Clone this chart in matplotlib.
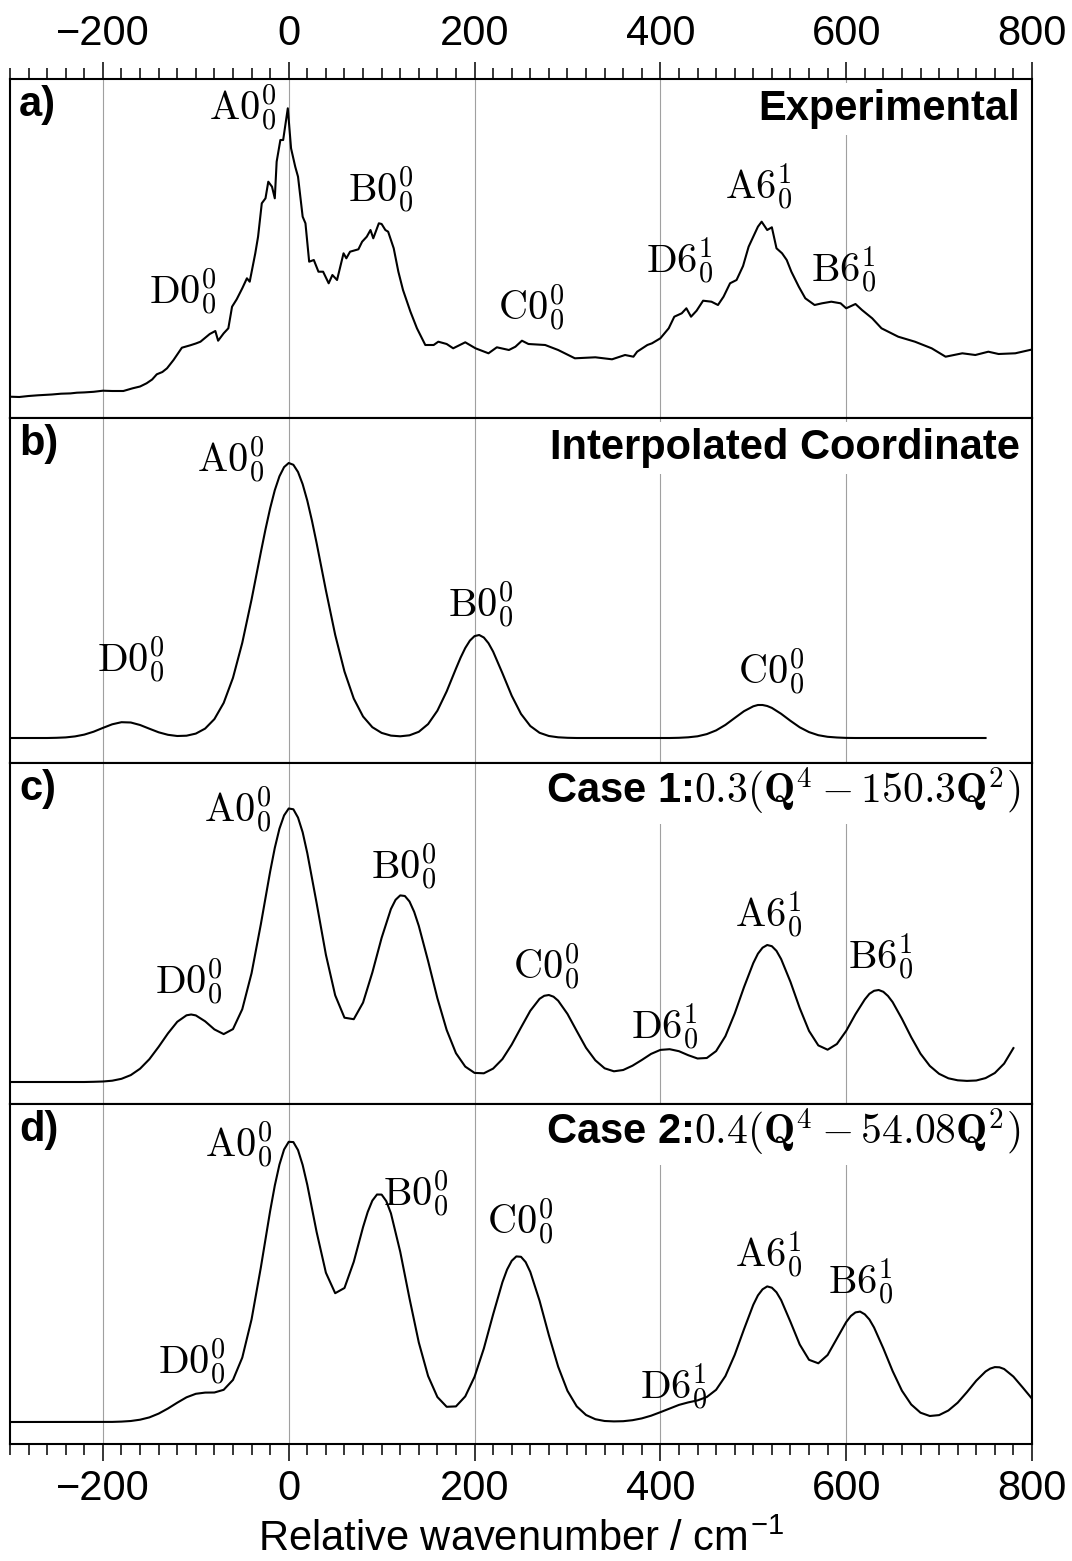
"""
Stacked spectra: experimental trace vs. three simulated vibronic spectra
"""

import numpy as np
import matplotlib.pyplot as plt
from matplotlib.ticker import MultipleLocator

plt.rcParams['font.family'] = ['Liberation Sans', 'DejaVu Sans']
plt.rcParams['mathtext.fontset'] = 'cm'

# ---- data (x in cm-1, intensity in arbitrary units) ----
exp_x = [-300, -290, -280, -270, -264, -255, -245, -235, -228, -220,
         -210, -200, -190, -178, -168, -160, -153, -147, -142, -136,
         -131, -124, -115, -106, -100, -95, -85, -79, -76, -70,
         -65, -61, -56, -50, -45, -42, -36, -33, -29, -25,
         -22, -18, -15, -13, -9, -6, -1, 2.5, 7, 10,
         15, 18, 22, 27, 32, 37, 43, 47, 52, 59,
         62, 66, 75, 79, 84, 88, 91, 97, 100, 104,
         107, 113, 118, 123, 131, 138, 147, 156, 161, 170,
         177, 190, 201, 215, 224, 237, 244, 251, 258, 276,
         290, 308, 330, 348, 362, 371, 375, 386, 391, 400,
         409, 415, 423, 428, 433, 439, 446, 455, 462, 468,
         475, 482, 489, 495, 500, 505, 509, 515, 520, 525,
         531, 536, 541, 549, 556, 566, 574, 584, 594, 600,
         610, 617, 628, 638, 656, 674, 692, 707, 725, 739,
         753, 764, 782, 798, 800]
exp_y = [21.3, 21.0, 22.0, 22.7, 23.0, 23.5, 24.3, 24.6, 25.3, 25.6,
         26.2, 27.3, 27.0, 27.0, 29.7, 31.5, 34.7, 38.5, 43.7, 46.0,
         49.7, 58.0, 70.3, 72.7, 74.5, 76.3, 84.0, 87.0, 77.3, 84.7,
         89.7, 111.3, 118.7, 129.7, 139.7, 136.3, 164.7, 181.3, 214.7, 219.7,
         236.3, 231.3, 219.7, 256.3, 278.0, 278.0, 309.7, 269.7, 251.3, 241.3,
         201.3, 194.7, 156.3, 158.0, 146.3, 146.3, 134.7, 143.0, 138.0, 164.7,
         159.7, 166.3, 168.7, 176.3, 181.3, 188.0, 179.7, 194.7, 194.0, 188.0,
         186.3, 169.7, 146.3, 128.0, 106.3, 89.7, 73.0, 73.0, 76.3, 74.0,
         69.7, 75.7, 69.7, 64.7, 70.7, 68.0, 71.3, 77.3, 74.0, 73.0,
         68.0, 59.7, 60.7, 58.7, 63.0, 61.3, 66.3, 73.0, 74.7, 79.7,
         89.7, 101.3, 104.7, 109.7, 101.3, 107.3, 117.3, 116.3, 113.0, 121.3,
         134.7, 138.0, 152.0, 171.3, 181.3, 191.3, 196.3, 188.0, 190.7, 169.7,
         164.7, 158.0, 146.3, 131.3, 119.7, 113.0, 114.7, 116.3, 114.7, 109.7,
         114.0, 108.0, 99.7, 89.7, 81.3, 76.3, 69.7, 61.3, 64.7, 63.0,
         66.3, 64.0, 64.7, 68.0, 68.5]

# simulated spectra: 10 cm-1 readings plus extra readings near peak tops
interp_x = np.arange(-300, 760, 10)
interp_y = [25, 25, 25, 25, 25, 25.2, 25.6, 26.6, 28.4, 31.3,
            35.1, 38.7, 40.8, 40.5, 38.0, 34.3, 30.7, 28.2, 27.0, 27.3,
            29.4, 34.4, 43.9, 60.1, 85.2, 120.2, 163.5, 210.8, 254.7, 286.7,
            300, 291, 262.3, 220, 172.7, 128.2, 91.5, 64.4, 46.5, 35.8,
            30.1, 27.4, 26.7, 27.7, 31.2, 38.9, 52.3, 71.6, 94.4, 115,
            126.9, 125.5, 111.4, 89.8, 67.3, 49.1, 37, 30.2, 27, 25.7,
            25.2, 25, 25, 25, 25, 25, 25, 25, 25, 25,
            25, 25, 25.2, 25.7, 26.7, 28.9, 32.6, 38.1, 45, 51.8,
            56.7, 58, 55.1, 49.2, 42.2, 35.7, 30.9, 27.8, 26.2, 25.5,
            25.1, 25, 25, 25, 25, 25, 25, 25, 25, 25,
            25, 25, 25, 25, 25, 25]
interp_xe = [-25, -15, -5, 5, 15, 25, 185, 195, 205, 215, 505, 515]
interp_ye = [233.7, 272.8, 295.9, 298.2, 278.8, 242.3, 105.4, 122.4, 128, 119.8, 58, 57]

case1_x = np.arange(-300, 790, 10)
case1_y = [22, 22, 22, 22, 22, 22, 22, 22, 22, 22.2,
           22.5, 23.3, 25.2, 28.9, 35.3, 44.8, 57.2, 70.6, 82.2, 88.7,
           88.6, 82.7, 74.6, 69.9, 74.9, 94.8, 130.8, 179.8, 232.4, 275.3,
           295.5, 286.4, 250.8, 201, 149.3, 108.7, 86.3, 84.8, 101.4, 131.5,
           166.2, 195, 208.6, 202.5, 178.1, 143, 105.8, 74, 50.8, 37.4,
           31.1, 30.7, 35.4, 44.9, 59.4, 76.5, 93.2, 105.2, 109, 103.3,
           90.1, 73, 56.2, 43.7, 35.7, 32.7, 34, 38.3, 44, 50.1,
           54.1, 54.8, 52.8, 48.8, 45.5, 46, 52.9, 67.8, 90.4, 116.8,
           140.9, 156.3, 157.8, 144.9, 122.2, 95.9, 73.1, 58.6, 54.3, 60,
           73.1, 89.8, 104.5, 113.2, 112.2, 101.9, 85.2, 66.8, 50.3, 38.1,
           30.2, 25.7, 23.7, 23.1, 23.5, 25.9, 31, 40.4, 55.9]
case1_xe = [-105, -15, -5, 5, 15, 115, 125, 135, 275, 285,
            505, 515, 525, 625, 635, 645]
case1_ye = [89.5, 256.1, 288.6, 294.7, 271.7, 204.2, 208, 192.2, 108.2, 107.3,
            150.3, 159, 153.1, 110.2, 114, 108]

case2_x = np.arange(-300, 810, 10)
case2_y = [22, 22, 22, 22, 22, 22, 22, 22, 22, 22,
           22, 22.1, 22.4, 23, 24.3, 26.6, 30.4, 35.5, 41.3, 46.7,
           50.2, 51.4, 51.5, 54.2, 64.1, 86.4, 124.6, 176.6, 233, 279.4,
           302.2, 293.9, 259.1, 212.1, 171.3, 150.8, 156, 182.2, 216.9, 243.4,
           249.4, 230.7, 192.3, 145.5, 101.5, 68, 47, 37.2, 37.6, 47.6,
           67.2, 95.5, 129.6, 161.8, 183.2, 187.2, 172.1, 143.2, 108.8, 77.3,
           53.2, 37.6, 29, 24.8, 23, 22.6, 22.8, 23.8, 25.6, 28.3,
           31.8, 35.5, 39.1, 41.6, 43.6, 47, 54.2, 67.9, 89.1, 114.7,
           139.2, 154.7, 156.3, 143.9, 122.2, 99.5, 84.2, 80.7, 89, 105.4,
           121.9, 131.6, 129.7, 116.5, 95.6, 72.9, 53.3, 39.5, 31.3, 28,
           28.9, 33.5, 41.3, 51.9, 63.3, 72.5, 76.9, 75, 67.4, 56.5, 45.3]
case2_xe = [-15, -5, 5, 15, 85, 95, 105, 235, 245, 255,
            505, 515, 525, 605, 615, 625, 755, 765]
case2_ye = [258.4, 294.5, 301.9, 279, 232, 249.5, 242.9, 174.4, 187.6, 181.9,
            148.6, 157.6, 151.7, 128, 132.4, 124.5, 75.4, 76.7]

panel_tags = ['a)', 'b)', 'c)', 'd)']
panel_titles = ['Experimental',
                'Interpolated Coordinate',
                r'Case 1:$0.3(\mathbf{Q}^{\mathbf{4}}-\mathbf{150.3Q}^{\mathbf{2}})$',
                r'Case 2:$\mathbf{0.4}(\mathbf{Q}^{\mathbf{4}}-\mathbf{54.08Q}^{\mathbf{2}})$']

A00, B00, C00, D00 = (r'$\mathrm{A}0_0^0$', r'$\mathrm{B}0_0^0$',
                      r'$\mathrm{C}0_0^0$', r'$\mathrm{D}0_0^0$')
A61, B61, D61 = r'$\mathrm{A}6_0^1$', r'$\mathrm{B}6_0^1$', r'$\mathrm{D}6_0^1$'

# peak annotations: (text, x, y) per panel
peak_labels = [
    [(A00, -50, 310), (B00, 99, 228), (D00, -114, 126), (C00, 261, 110),
     (D61, 421, 157), (A61, 506, 231), (B61, 597, 148)],
    [(A00, -63, 303), (B00, 207, 158), (D00, -170, 103), (C00, 519, 91)],
    [(A00, -55, 294), (B00, 124, 237), (D00, -108, 122), (C00, 277, 137),
     (D61, 405, 77), (A61, 517, 189), (B61, 637, 147)],
    [(A00, -54, 299), (B00, 137, 250), (D00, -104, 82), (C00, 249, 222),
     (D61, 415, 57), (A61, 517, 189), (B61, 616, 162)],
]


def merged(x, y, xe=(), ye=()):
    xx = np.concatenate([np.asarray(x, float), np.asarray(xe, float)])
    yy = np.concatenate([np.asarray(y, float), np.asarray(ye, float)])
    order = np.argsort(xx, kind='stable')
    return xx[order], yy[order]


series = [merged(exp_x, exp_y),
          merged(interp_x, interp_y, interp_xe, interp_ye),
          merged(case1_x, case1_y, case1_xe, case1_ye),
          merged(case2_x, case2_y, case2_xe, case2_ye)]
heights = [339, 345, 341, 340]

fig = plt.figure(figsize=(10.72, 15.61), dpi=100)
gs = fig.add_gridspec(4, 1, height_ratios=heights, hspace=0,
                      left=10 / 1072, right=1032 / 1072,
                      top=1 - 79 / 1561, bottom=1 - 1444 / 1561)

axes = []
for i, (x, y) in enumerate(series):
    ax = fig.add_subplot(gs[i])
    axes.append(ax)
    ax.plot(x, y, color='black', lw=1.5, zorder=2)
    ax.set_xlim(-300, 800)
    ax.set_ylim(0, heights[i])
    ax.set_yticks([])
    ax.xaxis.set_major_locator(MultipleLocator(200))
    ax.xaxis.set_minor_locator(MultipleLocator(20))
    ax.grid(axis='x', which='major', color='#a0a0a0', lw=0.8, zorder=0)
    ax.set_axisbelow(True)
    for sp in ax.spines.values():
        sp.set_linewidth(1.5)
        sp.set_zorder(2.5)
    ax.tick_params(which='both', bottom=False, top=False,
                   labelbottom=False, labeltop=False, direction='out',
                   width=1.1, labelsize=30, pad=6)
    ax.tick_params(which='major', length=12)
    ax.tick_params(which='minor', length=8)

    ax.text(-290.3, heights[i] - 37, panel_tags[i], fontsize=30,
            fontweight='bold', ha='left', va='baseline')
    title = ax.text(787, heights[i] - 41, panel_titles[i], fontsize=30,
                    fontweight='bold', ha='right', va='baseline', zorder=2.4,
                    bbox=dict(boxstyle='square,pad=0.15', fc='white', ec='none'))
    title.set_clip_path(ax.patch)
    title.set_clip_on(True)
    for txt, lx, ly in peak_labels[i]:
        ax.text(lx, ly, txt, fontsize=29, ha='center', va='center')

axes[0].tick_params(which='both', top=True, labeltop=True)
axes[-1].tick_params(which='both', bottom=True, labelbottom=True)
axes[-1].set_xlabel(r'Relative wavenumber / cm$^{\mathregular{-1}}$',
                    fontsize=30, labelpad=8)

fig.savefig('out.png', dpi=100)
